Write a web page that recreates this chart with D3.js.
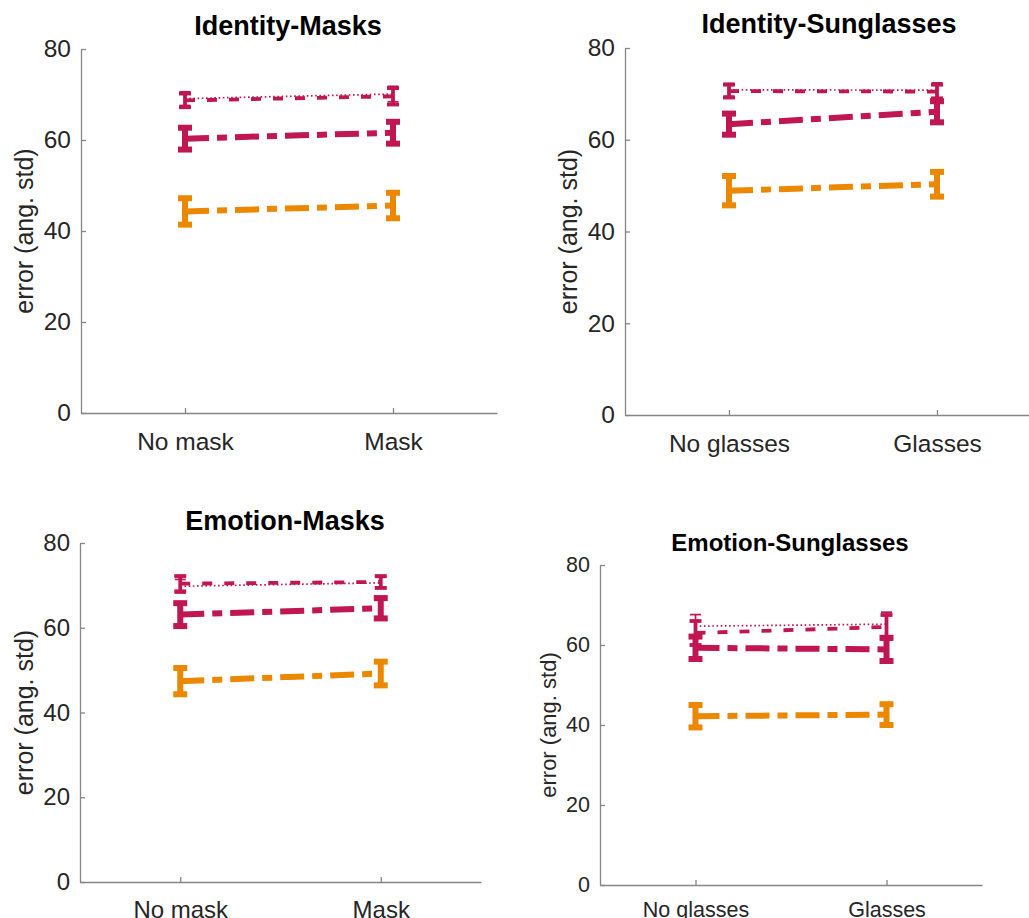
<!DOCTYPE html>
<html>
<head>
<meta charset="utf-8">
<script src="https://cdn.jsdelivr.net/npm/d3@7"></script>
<style>
  body { margin: 0; background: #fff; }
  svg { font-family: "Liberation Sans", Arial, sans-serif; }
</style>
</head>
<body>
<div id="chart"></div>
<script>
// panel titles and category labels
const titles = ['Identity-Masks', 'Identity-Sunglasses', 'Emotion-Masks', 'Emotion-Sunglasses'];
const maskCats = ['No mask', 'Mask'];
const glassCats = ['No glasses', 'Glasses'];
const yTicks = [0, 20, 40, 60, 80];

// series means per panel: [condition 1, condition 2]
const dottedMean = [[69.1, 70.1], [70.9, 70.8], [69.8, 70.6], [64.7, 65.2]];
const dashedMean = [[68.7, 69.6], [70.6, 70.5], [70.4, 70.8], [63.0, 64.5]];
const thickMean  = [[60.3, 61.6], [63.4, 66.1], [63.1, 64.6], [59.3, 58.9]];
const orangeMean = [[44.3, 45.6], [48.9, 50.3], [47.4, 49.2], [42.2, 42.6]];

// error bar half-lengths
const dottedErr = [[1.5, 1.7], [1.4, 1.6], [1.6, 1.3], [2.9, 3.0]];
const dashedErr = [[1.5, 1.8], [1.4, 1.5], [1.8, 1.4], [3.0, 3.0]];
const thickErr  = [[2.4, 2.4], [2.3, 2.3], [2.7, 2.4], [2.8, 2.9]];
const orangeErr = [[2.9, 2.8], [3.2, 2.7], [3.1, 2.8], [2.8, 2.6]];

const crimson = '#c01651';
const orange = '#ec8800';

// drawing order: back to front
const series = [
    { mean: orangeMean, err: orangeErr, color: orange, width: 6, dash: '24,8,10,8', cap: 14 },
    { mean: thickMean, err: thickErr, color: crimson, width: 6, dash: '24,8,10,8', cap: 14 },
    { mean: dashedMean, err: dashedErr, color: crimson, width: 3.8, dash: '10,12', cap: 12 },
    { mean: dottedMean, err: dottedErr, color: crimson, width: 1.7, dash: '1.6,2.6', cap: 11 }
];

// panel geometry and font sizes
const panels = [
    { left: 81, right: 497, top: 49, bottom: 413, cats: maskCats, tick: 24.5, title: 27, titleY: 35, titleX: 288, lab: 25, labX: 24 },
    { left: 625, right: 1041, top: 48, bottom: 415, cats: glassCats, tick: 24.5, title: 27, titleY: 33, titleX: 829, lab: 25, labX: 568 },
    { left: 80, right: 481, top: 543, bottom: 882, cats: maskCats, tick: 24, title: 27, titleY: 530, titleX: 285, lab: 25, labX: 24 },
    { left: 600, right: 982, top: 565, bottom: 885, cats: glassCats, tick: 21.5, title: 24, titleY: 551, titleX: 790, lab: 22, labX: 548 }
];

const svg = d3.select('#chart').append('svg')
    .attr('width', 1029)
    .attr('height', 918);

panels.forEach((p, i) => {
    const g = svg.append('g');
    const x = d3.scaleLinear().domain([0.5, 2.5]).range([p.left, p.right]);
    const y = d3.scaleLinear().domain([0, 80]).range([p.bottom, p.top]);

    // y axis, ticks pointing inward
    const ya = g.append('g')
        .attr('transform', `translate(${p.left},0)`)
        .call(d3.axisLeft(y).tickValues(yTicks).tickSize(-5).tickSizeOuter(0).tickPadding(10));

    // x axis
    const xa = g.append('g')
        .attr('transform', `translate(0,${p.bottom})`)
        .call(d3.axisBottom(x).tickValues([1, 2]).tickFormat(d => p.cats[d - 1])
            .tickSize(-5).tickSizeOuter(0).tickPadding(p.tick * 0.78));

    [ya, xa].forEach(a => {
        a.select('.domain').attr('stroke', '#868686').attr('stroke-width', 1.3);
        a.selectAll('.tick line').attr('stroke', '#868686').attr('stroke-width', 1.3);
        a.selectAll('.tick text').attr('fill', '#262626').style('font-size', p.tick + 'px')
            .style('font-family', '"Liberation Sans", Arial, sans-serif');
    });

    // title
    g.append('text')
        .attr('x', p.titleX)
        .attr('y', p.titleY)
        .attr('text-anchor', 'middle')
        .style('font-weight', 'bold')
        .style('font-size', p.title + 'px')
        .attr('fill', '#000')
        .text(titles[i]);

    // y label
    g.append('text')
        .attr('transform', `translate(${p.labX},${(p.top + p.bottom) / 2}) rotate(-90)`)
        .attr('text-anchor', 'middle')
        .attr('dy', '0.35em')
        .style('font-size', p.lab + 'px')
        .attr('fill', '#262626')
        .text('error (ang. std)');

    // series lines and error bars
    series.forEach(s => {
        const pts = s.mean[i].map((m, k) => ({ x: k + 1, m: m, e: s.err[i][k] }));

        g.append('path')
            .datum(pts)
            .attr('d', d3.line().x(d => x(d.x)).y(d => y(d.m)))
            .attr('fill', 'none')
            .attr('stroke', s.color)
            .attr('stroke-width', s.width)
            .attr('stroke-dasharray', s.dash)
            .attr('stroke-linecap', 'butt');

        const eb = g.selectAll(null).data(pts).enter().append('g');
        eb.append('line')
            .attr('x1', d => x(d.x)).attr('x2', d => x(d.x))
            .attr('y1', d => y(d.m - d.e)).attr('y2', d => y(d.m + d.e))
            .attr('stroke', s.color).attr('stroke-width', s.width);
        [-1, 1].forEach(sign => {
            eb.append('line')
                .attr('x1', d => x(d.x) - s.cap / 2).attr('x2', d => x(d.x) + s.cap / 2)
                .attr('y1', d => y(d.m + sign * d.e)).attr('y2', d => y(d.m + sign * d.e))
                .attr('stroke', s.color).attr('stroke-width', s.width);
        });
    });
});
</script>
</body>
</html>
